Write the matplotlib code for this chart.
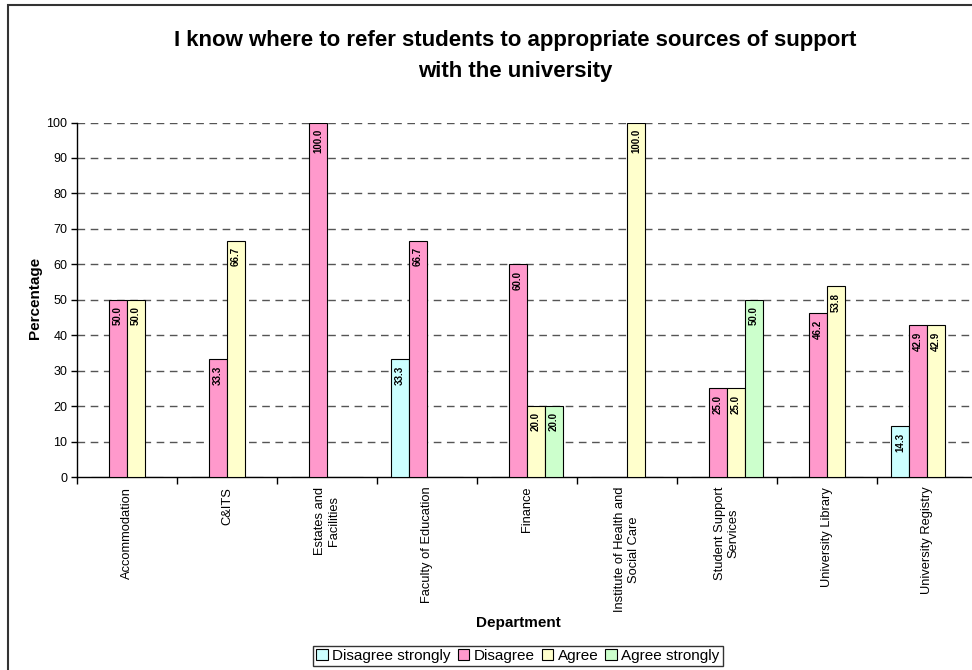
import matplotlib
matplotlib.use("Agg")
import matplotlib.pyplot as plt
from matplotlib.patches import Rectangle
import numpy as np

plt.rcParams['font.family'] = ['Liberation Sans', 'DejaVu Sans']

departments = ["Accommodation", "C&ITS", "Estates and\nFacilities", "Faculty of Education",
               "Finance", "Institute of Health and\nSocial Care", "Student Support\nServices",
               "University Library", "University Registry"]
series_names = ["Disagree strongly", "Disagree", "Agree", "Agree strongly"]
disagree_strongly = [0, 0, 0, 33.3, 0, 0, 0, 0, 14.3]
disagree = [50.0, 33.3, 100.0, 66.7, 60.0, 0, 25.0, 46.2, 42.9]
agree = [50.0, 66.7, 0, 0, 20.0, 100.0, 25.0, 53.8, 42.9]
agree_strongly = [0, 0, 0, 0, 20.0, 0, 50.0, 0, 0]
yticks = list(range(0, 101, 10))

colors = ["#CCFFFF", "#FF99CC", "#FFFFCC", "#CCFFCC"]
series = [disagree_strongly, disagree, agree, agree_strongly]

W, H = 972, 670
fig = plt.figure(figsize=(W / 100, H / 100), dpi=100)
fig.patch.set_facecolor("white")

# outer chart border (left & top visible)
fig.add_artist(Rectangle((8 / W, -0.2), 1.2, 1.2 - 5 / H, transform=fig.transFigure,
                         fill=False, edgecolor="#333333", linewidth=1.5))

ax = fig.add_axes([77 / W, 1 - 477 / H, 900 / W, (477 - 122.5) / H])
x = np.arange(len(departments))
bw = 0.18
for i, (vals, c, name) in enumerate(zip(series, colors, series_names)):
    offs = (i - 1.5) * bw
    ax.bar(x + offs, vals, width=bw, color=c, edgecolor="black", linewidth=0.8,
           label=name, zorder=3)
    for xi, v in zip(x, vals):
        if v > 0:
            ax.text(xi + offs, v - 1.8, f"{v:.1f}", rotation=90, ha="center", va="top",
                    fontsize=7, fontweight="bold", zorder=4)

ax.set_xlim(-0.5, len(departments) - 0.5)
ax.set_ylim(0, 100)
ax.set_yticks(yticks)
ax.set_yticklabels([str(t) for t in yticks], fontsize=9)
for t in yticks[1:]:
    ax.axhline(t, color="#555555", linestyle=(0, (5.5, 4)), linewidth=1.0, zorder=1)

ax.set_xticks(np.arange(len(departments) + 1) - 0.5)
ax.set_xticklabels([])
ax.set_xticks(x, minor=True)
ax.set_xticklabels(departments, minor=True, rotation=90, ha="center", va="top",
                   multialignment="center", fontsize=9.3)
ax.tick_params(axis="x", which="minor", length=0, pad=7)
ax.tick_params(axis="x", which="major", length=5, width=1, direction="out")
ax.tick_params(axis="y", length=4, width=1, direction="out", pad=3)

for s in ["top", "right"]:
    ax.spines[s].set_visible(False)
ax.spines["left"].set_linewidth(1.0)
ax.spines["bottom"].set_linewidth(1.0)

fig.text(515 / W, 1 - 56 / H, "I know where to refer students to appropriate sources of support\nwith the university",
         ha="center", va="center", fontsize=16, fontweight="bold", linespacing=1.65)
fig.text(35 / W, 1 - 298 / H, "Percentage", rotation=90, ha="center", va="center",
         fontsize=11, fontweight="bold")
fig.text(518 / W, 1 - 623 / H, "Department", ha="center", va="center",
         fontsize=11, fontweight="bold")

leg = fig.legend(loc="center", bbox_to_anchor=(518 / W, 1 - 656 / H), ncol=4, fontsize=11,
                 frameon=True, fancybox=False, edgecolor="black", handlelength=0.75,
                 handleheight=0.75, handletextpad=0.3, columnspacing=0.45, borderpad=0.2,
                 borderaxespad=0)
leg.get_frame().set_linewidth(1.0)

fig.savefig("out.png", dpi=100, facecolor="white")
